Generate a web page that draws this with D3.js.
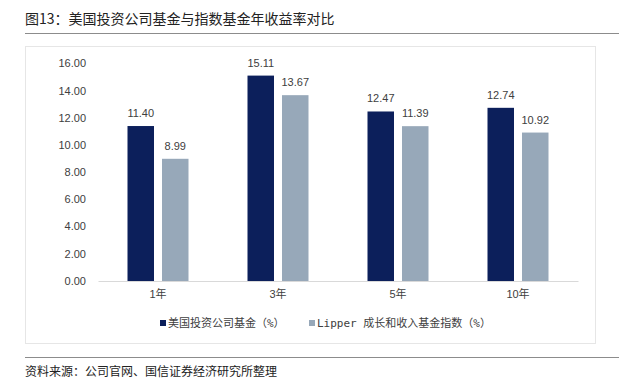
<!DOCTYPE html>
<html>
<head>
<meta charset="utf-8">
<script src="https://cdn.jsdelivr.net/npm/d3@7"></script>
<style>
  body { margin: 0; background: #fff; }
  svg text { font-family: "Liberation Sans", Arial, "Noto Sans CJK SC", sans-serif; }
</style>
</head>
<body>
<div id="chart"></div>
<script>
var categories = ["1年", "3年", "5年", "10年"];
var seriesNames = ["美国投资公司基金（%）", "Lipper 成长和收入基金指数（%）"];
var fundValues = [11.40, 15.11, 12.47, 12.74];
var lipperValues = [8.99, 13.67, 11.39, 10.92];
var yTicks = [0, 2, 4, 6, 8, 10, 12, 14, 16];

var colors = ["#0c1f5b", "#97a8b9"];

var W = 623, H = 389;

var svg = d3.select("#chart").append("svg")
    .attr("width", W)
    .attr("height", H);

// title and rules
svg.append("text")
    .attr("x", 25).attr("y", 24)
    .style("font-family", "'Noto Sans CJK SC', sans-serif")
    .style("font-size", "14px")
    .attr("fill", "#222")
    .text("图13：美国投资公司基金与指数基金年收益率对比");

svg.append("line")
    .attr("x1", 25).attr("x2", 619).attr("y1", 33.5).attr("y2", 33.5)
    .attr("stroke", "#8c8c8c").attr("stroke-width", 1);

svg.append("rect")
    .attr("x", 25.5).attr("y", 46.5).attr("width", 570).attr("height", 297)
    .attr("fill", "none").attr("stroke", "#e6e6e6");

svg.append("line")
    .attr("x1", 25).attr("x2", 619).attr("y1", 357.5).attr("y2", 357.5)
    .attr("stroke", "#8c8c8c").attr("stroke-width", 1);

svg.append("text")
    .attr("x", 25).attr("y", 376)
    .style("font-family", "'Noto Sans CJK SC', sans-serif")
    .style("font-size", "12px")
    .attr("fill", "#222")
    .text("资料来源：公司官网、国信证券经济研究所整理");

// scales
var x = d3.scaleBand()
    .domain(categories)
    .range([98, 578]);

var y = d3.scaleLinear()
    .domain([0, 16])
    .range([281, 63.5]);

var barW = 26.5, gap = 8;

var g = svg.append("g");

// y axis labels
g.selectAll(".ytick")
    .data(yTicks)
    .enter().append("text")
    .attr("class", "ytick")
    .attr("x", 86)
    .attr("y", function(d) { return y(d); })
    .attr("dy", "0.35em")
    .attr("text-anchor", "end")
    .style("font-size", "11px")
    .attr("fill", "#404040")
    .text(function(d) { return d3.format(".2f")(d); });

var data = categories.map(function(c, i) {
    return { cat: c, vals: [fundValues[i], lipperValues[i]] };
});

var groups = g.selectAll(".grp")
    .data(data)
    .enter().append("g")
    .attr("class", "grp")
    .attr("transform", function(d) { return "translate(" + (x(d.cat) + x.bandwidth() / 2) + ",0)"; });

function barX(j) { return j === 0 ? -(gap / 2 + barW) : gap / 2; }

groups.selectAll("rect")
    .data(function(d) { return d.vals; })
    .enter().append("rect")
    .attr("x", function(d, j) { return barX(j); })
    .attr("y", function(d) { return y(d); })
    .attr("width", barW)
    .attr("height", function(d) { return y(0) - y(d); })
    .attr("fill", function(d, j) { return colors[j]; });

groups.selectAll(".lbl")
    .data(function(d) { return d.vals; })
    .enter().append("text")
    .attr("class", "lbl")
    .attr("x", function(d, j) { return barX(j) + barW / 2; })
    .attr("y", function(d) { return y(d) - 9; })
    .attr("text-anchor", "middle")
    .style("font-size", "11px")
    .attr("fill", "#404040")
    .text(function(d) { return d3.format(".2f")(d); });

// x axis
var xAxis = d3.axisBottom(x).tickSize(0).tickPadding(9);
var xg = g.append("g")
    .attr("transform", "translate(0," + y(0) + ")")
    .call(xAxis);
xg.select(".domain").attr("stroke", "#d9d9d9");
xg.selectAll("text")
    .style("font-family", "'Liberation Sans', 'Noto Sans CJK SC', sans-serif")
    .style("font-size", "11px")
    .attr("fill", "#404040");

// legend
var legendX = [160, 309];
var legend = g.selectAll(".legend")
    .data(seriesNames)
    .enter().append("g")
    .attr("class", "legend")
    .attr("transform", function(d, i) { return "translate(" + legendX[i] + ",323)"; });

legend.append("rect")
    .attr("x", 0).attr("y", -3)
    .attr("width", 6).attr("height", 6)
    .attr("fill", function(d, i) { return colors[i]; });

legend.append("text")
    .attr("x", 8)
    .attr("dy", "0.35em")
    .style("font-family", "'DejaVu Sans Mono', 'Noto Sans CJK SC', monospace")
    .style("font-size", "11px")
    .attr("fill", "#404040")
    .text(function(d) { return d; });
</script>
</body>
</html>
